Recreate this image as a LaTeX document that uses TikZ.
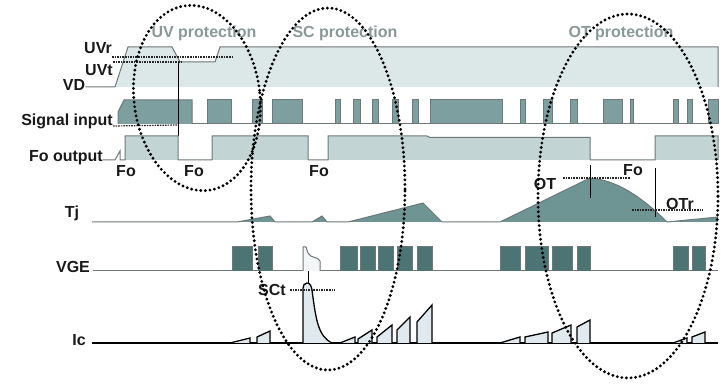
\documentclass[tikz,border=0pt]{standalone}
\usepackage{fontspec}
\setsansfont{Liberation Sans}
\usepackage{tikz}
\usetikzlibrary{positioning}
\definecolor{band}{HTML}{DCE7E7}
\definecolor{sigfill}{HTML}{7D9F9F}
\definecolor{fofill}{HTML}{C2D4D4}
\definecolor{tjfill}{HTML}{6F9494}
\definecolor{gefill}{HTML}{4D7474}
\definecolor{icfill}{HTML}{E0EAEE}
\definecolor{wave}{HTML}{6E7878}
\definecolor{capgray}{HTML}{8A9898}
\tikzset{
  lbl/.style={font=\sffamily\bfseries\fontsize{16}{18}\selectfont, inner sep=0pt, text=black!90},
  ttl/.style={lbl, text=capgray},
  wv/.style={draw=wave, line width=1pt},
  icw/.style={draw=black, line width=1.3pt, fill=icfill},
  lvl/.style={draw=black!85, line width=1.8pt, dash pattern=on 1.6pt off 1pt},
  mark line/.style={draw=black, line width=1pt},
  zone/.style={draw=black, line width=3.2pt, dash pattern=on 0pt off 4.6pt, line cap=round}
}

\begin{document}
\begin{tikzpicture}[x=1pt, y=-1pt]
\useasboundingbox (0,0) rectangle (724,387);
\node[ttl] (uvp) at (204,33) {UV protection};
\node[ttl] (scp) at (345,33) {SC protection};
\node[ttl] (otp) at (621,33) {OT protection};

\node[lbl] (uvr) at (98,48) {UVr};
\node[lbl] (uvt) at (99,70) {UVt};
\node[lbl] (vd) at (74,85) {VD};
\fill[band] (115,87) -- (128,47) -- (172,47) -- (180,62) -- (215,62) -- (220,47) -- (718,47) -- (718,87) -- cycle;
\draw[wv] (vd.east |- 0,87) -- (115,87) -- (128,47) -- (172,47) -- (180,62) -- (215,62) -- (220,47) -- (718,47) -- (718,87);
\draw[lvl] (uvr.east |- 0,57) -- (232,57);
\draw[lvl] (uvt.east |- 0,62) -- (183,62);

\node[lbl, anchor=base east] (sig) at (113,126) {Signal input};
\filldraw[wv, fill=sigfill] (118,124) -- (118,112) -- (124,100) -- (192,100) -- (192,124);
\foreach \a/\b in {207/231, 252/262, 272/302, 335/340, 353/360, 372/378, 392/398, 412/418, 430/502, 520/525, 543/552, 570/577, 603/622, 630/633, 673/678, 687/692, 708/718}
  \filldraw[wv, fill=sigfill] (\a,124) |- (\b,100) -- (\b,124);
\draw[wv] (192,124) -- (718,124);
\draw[lvl, line width=1.2pt] (sig.base east) -- (178,125);
\draw[mark line] (178,62) -- (178,136);

\node[lbl, anchor=east] (fo) at (103,158) {Fo output};
\fill[fofill] (125,160) rectangle (178,136) (212,160) rectangle (308,136)
  (328,160) -- (328,136) -- (427,136) -- (430,137.5) -- (590,137.5) -- (590,160) -- cycle
  (655,160) rectangle (718,136);
\draw[wv] (fo.east |- 0,160) -- (115,160) -- (120,151) -- (120,160) -- (125,160) -- (125,136) -- (178,136) -- (178,160) -- (212,160) -- (212,136) -- (308,136) -- (308,160) -- (328,160) -- (328,136) -- (427,136) -- (430,137.5) -- (590,137.5) -- (590,160) -- (655,160) -- (655,136) -- (718,136) -- (718,160);
\node[lbl] (fo1) at (126,171) {Fo};
\node[lbl] (fo2) at (194,171) {Fo};
\node[lbl] (fo3) at (319,171) {Fo};

\node[lbl] (tj) at (72,213) {Tj};
\fill[tjfill] (237,222) -- (270,216) -- (275,222) -- cycle (312,222) -- (322,216) -- (327,222) -- cycle
  (348,222) -- (423,203) -- (442,222) -- cycle
  (500,222) -- (590,178) .. controls (615,180) and (640,195) .. (667,222) -- cycle
  (667,222) -- (718,217) -- (718,222) -- cycle;
\draw[wv] (92,222) -- (237,222) -- (270,216) -- (275,222) -- (312,222) -- (322,216) -- (327,222) -- (348,222) -- (423,203) -- (442,222) -- (500,222) -- (590,178) .. controls (615,180) and (640,195) .. (667,222) -- (718,217);
\draw[lvl] (563,178) -- (630,178);
\draw[mark line] (590,165) -- (590,198);
\node[lbl] (ot) at (545,184) {OT};
\node[lbl] (fo4) at (633,170) {Fo};
\draw[mark line] (655,168) -- (655,217);
\draw[lvl] (632,210) -- (703,210);
\node[lbl] (otr) at (680,204) {OTr};

\node[lbl] (vge) at (73,267) {VGE};
\draw[wv] (93,271) -- (718,271);
\foreach \a/\b in {232/252, 258/272, 340/357, 360/375, 378/393, 397/412, 417/432, 500/520, 525/548, 552/572, 577/590, 673/688, 692/705}
  \filldraw[wv, fill=gefill] (\a,271) |- (\b,247) -- (\b,271);
\filldraw[wv, fill=white!60!icfill] (303,271) -- (303,247) -- (306,247) -- (308,253) .. controls (311,259) and (318,256) .. (320,261) -- (320,271);
\draw[mark line] (308,271) -- (308,283);

\node[lbl] (ic) at (79,340) {Ic};
\draw[icw, fill=none] (92,343) -- (718,343);
\filldraw[icw] (230,343) -- (250,338) -- (250,343) (257,343) -- (257,337) -- (270,331) -- (270,343);
\filldraw[icw] (303,343) -- (303,288) to[out=90,in=180] (307,283) to[out=0,in=100] (312,290) .. controls (316,320) and (318,336) .. (332,343);
\filldraw[icw] (340,343) -- (355,337) -- (355,343) (358,343) -- (358,339) -- (372,330) -- (372,343)
  (377,343) -- (377,337) -- (392,325) -- (392,343) (397,343) -- (397,330) -- (410,317) -- (410,343)
  (417,343) -- (417,322) -- (432,305) -- (432,343);
\filldraw[icw] (500,343) -- (520,337) -- (520,343) (525,343) -- (525,337) -- (548,332) -- (548,343)
  (552,343) -- (552,333) -- (571,325) -- (571,343) (577,343) -- (577,327) -- (590,320) -- (590,343);
\filldraw[icw] (673,343) -- (687,338) -- (687,343) (692,343) -- (692,337) -- (705,332) -- (705,343);
\node[lbl] (sct) at (272,290) {SCt};
\draw[lvl] (sct.east |- 0,290) ++(4,0) -- (335,290);

\draw[zone, rotate around={7:(197,98)}] (197,98) ellipse [x radius=63pt, y radius=93pt];
\draw[zone] (328,189) ellipse [x radius=77pt, y radius=181pt];
\draw[zone] (628,196) ellipse [x radius=90pt, y radius=182pt];
\end{tikzpicture}
\end{document}
